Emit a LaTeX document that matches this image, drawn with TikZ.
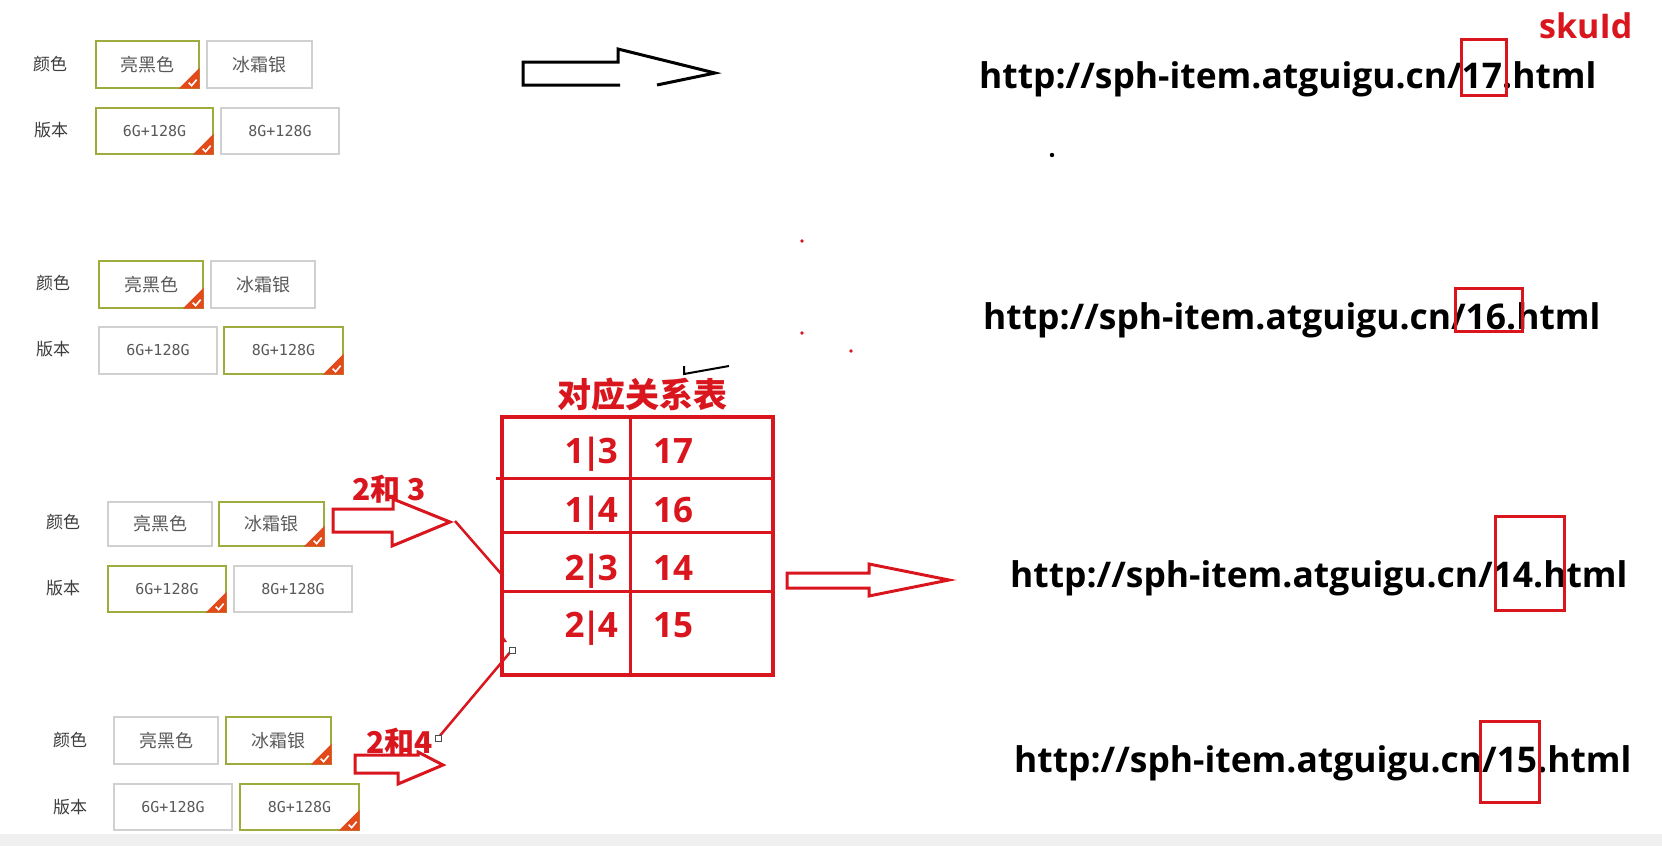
\documentclass[tikz,border=0pt]{standalone}
\usepackage{fontspec}
\setmainfont{Open Sans}
\newfontfamily\cjk{Noto Sans CJK SC}
\newfontfamily\monof{DejaVu Sans Mono}
\usetikzlibrary{calc}
\definecolor{hred}{RGB}{217,22,30}
\definecolor{olivesel}{RGB}{158,172,62}
\definecolor{badgec}{RGB}{226,74,28}
\definecolor{optgray}{RGB}{208,208,208}
\definecolor{txtgray}{RGB}{60,60,60}
\newcommand{\kbar}[2]{#1\kern-3pt|\kern-3pt#2}
\tikzset{
  lbl/.style={font=\cjk\fontsize{17}{17}\selectfont, text=txtgray, inner sep=0pt},
  optbox/.style={draw=optgray, fill=white, line width=1.3pt, inner sep=0pt,
    font=\cjk\fontsize{18}{18}\selectfont, text=txtgray!85},
  optver/.style={optbox, font=\monof\fontsize{15}{15}\selectfont},
  sel/.style={draw=olivesel},
  hollow/.style={draw=hred, line width=3pt, line join=miter},
  urltxt/.style={font=\bfseries\fontsize{35.4}{35.4}\selectfont, inner sep=0pt, text=black},
  hbox/.style={draw=hred, line width=3pt},
  tnum/.style={font=\bfseries\fontsize{35}{35}\selectfont, text=hred, inner sep=0pt},
  redcjk/.style={font=\cjk\bfseries\fontsize{30}{30}\selectfont, text=hred, inner sep=0pt},
  conn/.style={draw=hred, line width=2.5pt},
  handle/.style={draw=black!70, fill=white, line width=0.8pt},
  pics/badge/.style={code={
    \fill[badgec] (0,0) -- (-21,0) -- (0,-21) -- cycle;
    \draw[white, line width=1.6pt] (-11,-6) -- (-8,-3) -- (-3,-9);
  }}
}
\begin{document}
\begin{tikzpicture}[x=1pt,y=-1pt]
\useasboundingbox (0,0) rectangle (1662,846);
\fill[white] (0,0) rectangle (1662,846);
\fill[black!6] (0,834) rectangle (1662,846);

% ---------- group 1 ----------
\node[lbl] (g1c) at (50,64) {颜色};
\node[optbox, sel, minimum width=103, minimum height=47] (g1a) at (147.5,64.5) {亮黑色};
\pic at (g1a.south east) {badge};
\node[optbox, minimum width=105, minimum height=47] (g1b) at (259.5,64.5) {冰霜银};
\node[lbl] (g1v) at (51,130) {版本};
\node[optver, sel, minimum width=117, minimum height=46] (g1d) at (154.5,131) {6G+128G};
\pic at (g1d.south east) {badge};
\node[optver, minimum width=118, minimum height=46] (g1e) at (280,131) {8G+128G};

% ---------- group 2 ----------
\node[lbl] (g2c) at (53,283) {颜色};
\node[optbox, sel, minimum width=104, minimum height=47] (g2a) at (151,284.5) {亮黑色};
\pic at (g2a.south east) {badge};
\node[optbox, minimum width=104, minimum height=47] (g2b) at (263,284.5) {冰霜银};
\node[lbl] (g2v) at (53,349) {版本};
\node[optver, minimum width=118, minimum height=47] (g2d) at (158,350.5) {6G+128G};
\node[optver, sel, minimum width=119, minimum height=47] (g2e) at (283.5,350.5) {8G+128G};
\pic at (g2e.south east) {badge};

% ---------- group 3 ----------
\node[lbl] (g3c) at (63,522) {颜色};
\node[optbox, minimum width=104, minimum height=44] (g3a) at (160,524) {亮黑色};
\node[optbox, sel, minimum width=105, minimum height=44] (g3b) at (271.5,524) {冰霜银};
\pic at (g3b.south east) {badge};
\node[lbl] (g3v) at (63,588) {版本};
\node[optver, sel, minimum width=118, minimum height=46] (g3d) at (167,589) {6G+128G};
\pic at (g3d.south east) {badge};
\node[optver, minimum width=118, minimum height=46] (g3e) at (293,589) {8G+128G};

% ---------- group 4 ----------
\node[lbl] (g4c) at (70,740) {颜色};
\node[optbox, minimum width=104, minimum height=47] (g4a) at (166,740.5) {亮黑色};
\node[optbox, sel, minimum width=105, minimum height=47] (g4b) at (278.5,740.5) {冰霜银};
\pic at (g4b.south east) {badge};
\node[lbl] (g4v) at (70,807) {版本};
\node[optver, minimum width=118, minimum height=46] (g4d) at (173,807) {6G+128G};
\node[optver, sel, minimum width=119, minimum height=46] (g4e) at (299.5,807) {8G+128G};
\pic at (g4e.south east) {badge};

% ---------- black hollow arrow ----------
\draw[black, line width=3pt, line join=miter]
  (620,85) -- (523,85) -- (523,62) -- (618,62) -- (618,49) -- (715,73) -- (657,85);

% ---------- URLs ----------
\node[urltxt, anchor=base west] (u1) at (979,88) {http://sph-item.atguigu.cn/17.html};
\node[urltxt, anchor=base west] (u2) at (983,329) {http://sph-item.atguigu.cn/16.html};
\node[urltxt, anchor=base west] (u3) at (1010,587) {http://sph-item.atguigu.cn/14.html};
\node[urltxt, anchor=base west] (u4) at (1014,772) {http://sph-item.atguigu.cn/15.html};
\node[font=\bfseries\fontsize{34}{34}\selectfont, text=hred, inner sep=0pt, anchor=base west] (sku) at (1539,38) {skuId};
\draw[hbox] (1461,39) rectangle (1506,95);
\draw[hbox] (1455,288) rectangle (1522,331);
\draw[hbox] (1495,516) rectangle (1564,610);
\draw[hbox] (1480,721) rectangle (1539,802);

% ---------- table ----------
\node[redcjk, font=\cjk\bfseries\fontsize{34}{34}\selectfont] (title) at (642,395) {对应关系表};
\node[draw=hred, line width=3.5pt, minimum width=271, minimum height=258, inner sep=0pt] (tbl) at (637.5,546) {};
\draw[draw=hred, line width=3.5pt] ($(tbl.north west)+(130,0)$) -- ($(tbl.south west)+(130,0)$);
\draw[draw=hred, line width=3.5pt] ($(tbl.north west)+(-4,63)$) -- ($(tbl.north east)+(0,63)$);
\draw[draw=hred, line width=3.5pt] ($(tbl.north west)+(0,117)$) -- ($(tbl.north east)+(0,117)$);
\draw[draw=hred, line width=3.5pt] ($(tbl.north west)+(0,176)$) -- ($(tbl.north east)+(0,176)$);
\node[tnum, anchor=base east] (k1) at (618,463) {\kbar{1}{3}};
\node[tnum, anchor=base west] (v1) at (653,463) {17};
\node[tnum, anchor=base east] (k2) at (618,522) {\kbar{1}{4}};
\node[tnum, anchor=base west] (v2) at (653,522) {16};
\node[tnum, anchor=base east] (k3) at (618,580) {\kbar{2}{3}};
\node[tnum, anchor=base west] (v3) at (653,580) {14};
\node[tnum, anchor=base east] (k4) at (618,637) {\kbar{2}{4}};
\node[tnum, anchor=base west] (v4) at (653,637) {15};

% ---------- red hollow arrows ----------
\draw[hollow] (333,509) -- (393,509) -- (393,499) -- (450,522) -- (392,546) -- (392,532) -- (333,532) -- cycle;
\node[redcjk, anchor=base west] (l23) at (352,500) {2和 3};
\draw[hollow] (355,755) -- (418,755) -- (418,752) -- (443,765) -- (398,784) -- (398,773) -- (355,773) -- cycle;
\node[redcjk, anchor=base west] (l24) at (366,753) {2和4};
\draw[hollow] (787,573) -- (869,573) -- (869,564) -- (949,580) -- (869,596) -- (869,588) -- (787,588) -- cycle;

% ---------- connectors ----------
\coordinate (c1s) at (455,521);
\coordinate (c1e) at ($(tbl.north west)+(3,161)$);
\draw[conn] (c1s) -- (c1e);
\coordinate (c2s) at (438,738);
\coordinate (c2e) at (512,650);
\draw[conn] (c2s) -- (c2e);
\fill[hred] (501,633) -- (507,642) -- (501,642) -- cycle;
\draw[handle] ($(c2e)-(3,3)$) rectangle ($(c2e)+(3,3)$);
\draw[handle] ($(c2s)-(3,3)$) rectangle ($(c2s)+(3,3)$);

% ---------- stray marks ----------
\fill[black] (1052,155) circle (2.2);
\fill[hred] (802,241) circle (1.8);
\fill[hred] (802,333) circle (1.8);
\fill[hred] (851,351) circle (1.8);
\draw[black, line width=2pt] (684,366) -- (684,374) -- (729,366);
\end{tikzpicture}
\end{document}
